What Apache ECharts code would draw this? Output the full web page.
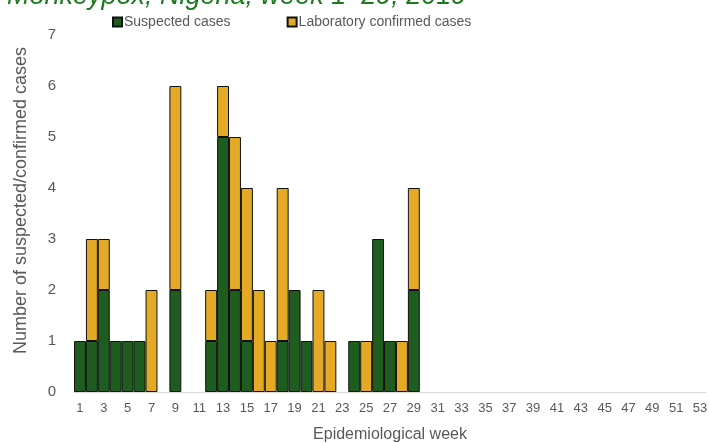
<!DOCTYPE html>
<html>
<head>
<meta charset="utf-8">
<script src="https://cdn.jsdelivr.net/npm/echarts@6/dist/echarts.min.js"></script>
<style>
  html, body { margin: 0; padding: 0; background: #fff; }
  #container { width: 709px; height: 443px; }
</style>
</head>
<body>
<div id="container"></div>
<script>
// weeks 1..53
var weeks = []
for (var i = 1; i <= 53; i++) {
    weeks.push(String(i))
}

// weeks 1-29 (rest are zero)
var suspected = [1, 1, 2, 1, 1, 1, 0, 0, 2, 0, 0, 1, 5, 2, 1, 0, 0, 1, 2, 1, 0, 0, 0, 1, 0, 3, 1, 0, 2]
var confirmed = [0, 2, 1, 0, 0, 0, 2, 0, 4, 0, 0, 1, 1, 3, 3, 2, 1, 3, 0, 0, 2, 1, 0, 0, 1, 0, 0, 1, 2]

// zero -> '-' so no empty outline is drawn on the axis
var padTo = function (arr, n) {
    var res = arr.map(v => (v === 0 ? '-' : v))
    while (res.length < n) {
        res.push('-')
    }
    return res
}

var dom = document.getElementById('container')
var myChart = echarts.init(dom)
var font = 'Liberation Sans, Arial, sans-serif'
var gray = '#595959'

var option = {
    animation: false,
    title: {
        text: 'Monkeypox, Nigeria, week 1–29, 2019',
        left: 2,
        top: -22,
        textStyle: {
            fontFamily: font,
            fontSize: 27,
            fontStyle: 'italic',
            fontWeight: 'normal',
            color: '#1e7a1e',
        },
    },
    legend: {
        left: 107,
        top: 10,
        itemWidth: 9,
        itemHeight: 9,
        itemGap: 56,
        icon: 'rect',
        textStyle: {
            fontFamily: font,
            fontSize: 14,
            color: gray,
            padding: [0, 0, 0, -3],
        },
        data: ['Suspected cases', 'Laboratory confirmed cases'],
    },
    grid: {
        left: 74,
        right: 3,
        top: 35,
        bottom: 51,
        outerBoundsMode: 'none',
    },
    xAxis: {
        type: 'category',
        data: weeks,
        name: 'Epidemiological week',
        nameLocation: 'middle',
        nameGap: 35,
        nameTextStyle: {
            fontFamily: font,
            fontSize: 16,
            color: gray,
        },
        axisLine: { lineStyle: { color: '#d9d9d9', width: 1 } },
        axisTick: { show: false },
        axisLabel: {
            interval: 1,
            fontFamily: font,
            fontSize: 13,
            color: gray,
            margin: 10,
        },
    },
    yAxis: {
        type: 'value',
        min: 0,
        max: 7,
        interval: 1,
        name: 'Number of suspected/confirmed cases',
        nameLocation: 'middle',
        nameGap: 44,
        nameTextStyle: {
            fontFamily: font,
            fontSize: 18,
            color: gray,
            padding: [0, 0, 0, 26],
        },
        splitLine: { show: false },
        axisLine: { show: false },
        axisTick: { show: false },
        axisLabel: {
            fontFamily: font,
            fontSize: 15,
            color: gray,
            margin: 18,
        },
    },
    series: [
        {
            name: 'Suspected cases',
            type: 'bar',
            stack: 'cases',
            barWidth: '100%',
            barGap: '0%',
            data: padTo(suspected, 53),
            itemStyle: {
                color: '#1e5c20',
                borderColor: '#111',
                borderWidth: 1,
            },
        },
        {
            name: 'Laboratory confirmed cases',
            type: 'bar',
            stack: 'cases',
            barWidth: '100%',
            data: padTo(confirmed, 53),
            itemStyle: {
                color: '#e4aa26',
                borderColor: '#111',
                borderWidth: 1,
            },
        },
    ],
}

myChart.setOption(option, true)
</script>
</body>
</html>
